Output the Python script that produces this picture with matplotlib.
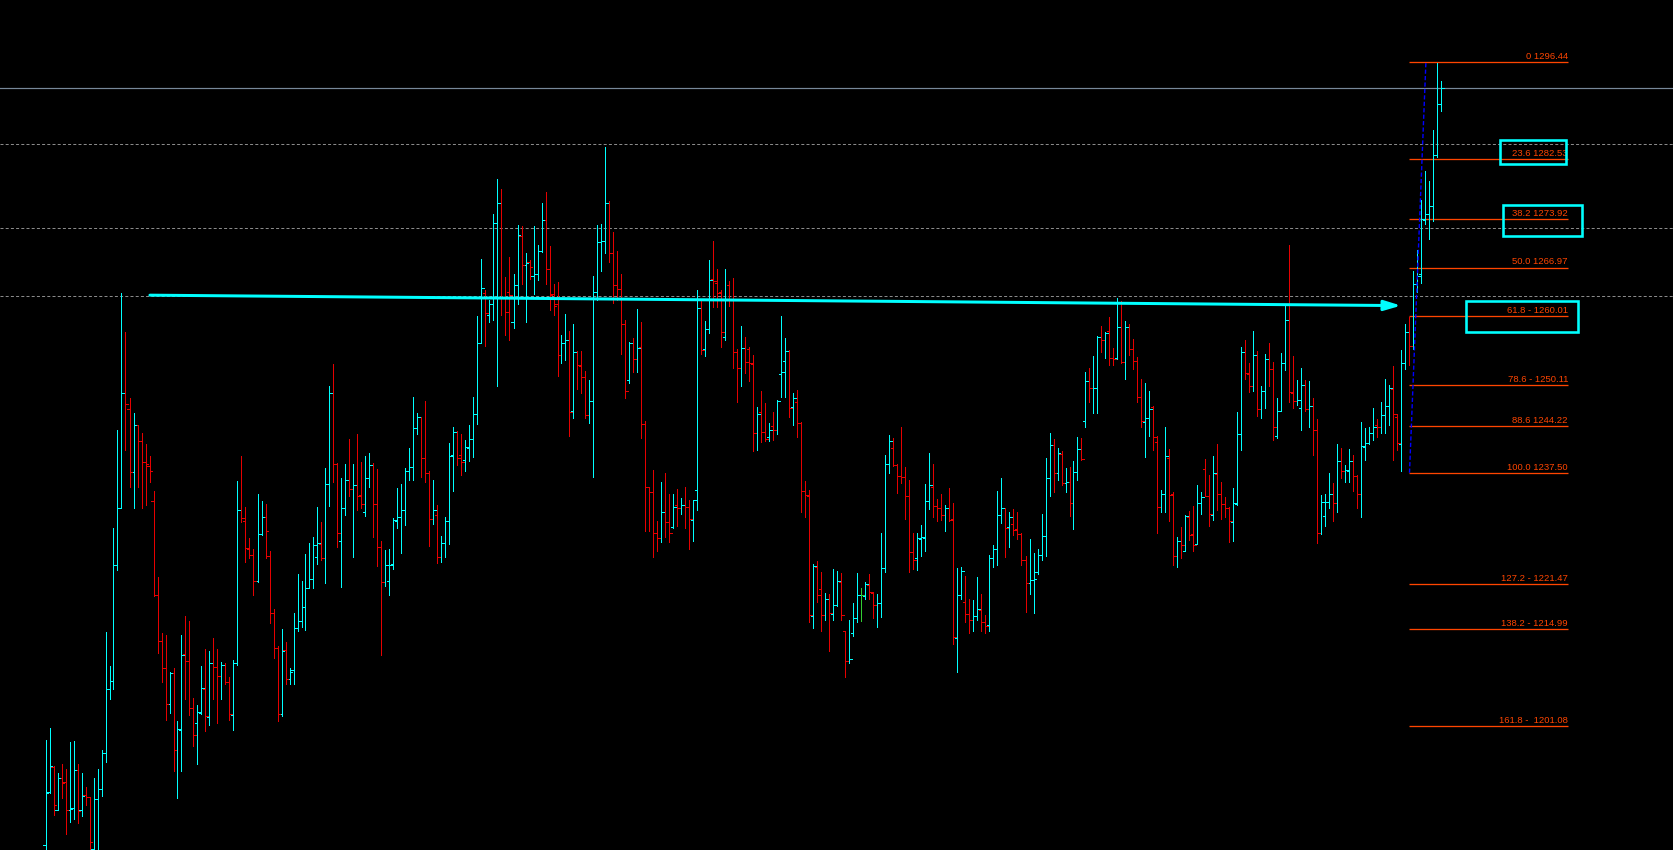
#
# Gold H1 chart with fibonacci retracement drawn on top
# bar chart (OHLC) with the levels, trend arrow and highlight boxes
#
import numpy as np
import matplotlib
matplotlib.use("Agg")
import matplotlib.pyplot as plt
from matplotlib.patches import Rectangle

# -------------------------------------------------------------------- #
# Data
# -------------------------------------------------------------------- #
opens = [
    1184.0, 1191.6, 1195.2, 1189.1, 1193.6, 1193.1, 1189.1, 1189.3, 1194.8, 1189.0,
    1191.2, 1190.9, 1183.4, 1190.6, 1192.1, 1197.2, 1206.4, 1207.6, 1224.2, 1232.4,
    1248.9, 1246.6, 1237.6, 1244.3, 1242.0, 1239.0, 1238.5, 1233.5, 1220.0, 1213.3,
    1209.5, 1204.3, 1208.8, 1197.7, 1200.6, 1211.4, 1210.5, 1203.7, 1201.5, 1203.0,
    1206.4, 1202.4, 1210.2, 1209.6, 1208.3, 1209.9, 1207.5, 1202.7, 1210.2, 1232.2,
    1230.5, 1226.5, 1225.7, 1221.9, 1228.7, 1231.2, 1225.6, 1217.4, 1212.4, 1202.9,
    1212.0, 1207.9, 1209.2, 1215.2, 1216.2, 1218.2, 1221.0, 1222.2, 1225.4, 1227.2,
    1225.2, 1235.9, 1248.9, 1238.7, 1227.7, 1232.5, 1236.5, 1235.1, 1235.7, 1234.3,
    1231.9, 1236.7, 1238.6, 1233.0, 1226.9, 1221.8, 1222.0, 1224.4, 1230.5, 1231.1,
    1232.2, 1237.7, 1238.3, 1243.9, 1245.5, 1239.6, 1237.5, 1230.8, 1231.4, 1225.4,
    1227.4, 1230.5, 1240.0, 1243.4, 1240.0, 1239.3, 1241.1, 1242.4, 1246.0, 1256.1,
    1263.3, 1260.2, 1261.8, 1273.3, 1276.2, 1262.8, 1263.5, 1259.1, 1264.4, 1271.5,
    1267.3, 1267.7, 1265.8, 1266.1, 1269.4, 1273.8, 1266.8, 1263.1, 1261.7, 1254.4,
    1256.1, 1256.6, 1246.3, 1254.9, 1252.8, 1251.3, 1245.8, 1247.8, 1263.4, 1270.6,
    1270.8, 1276.2, 1269.0, 1264.4, 1263.9, 1258.9, 1250.8, 1256.1, 1253.8, 1255.5,
    1244.5, 1235.4, 1234.7, 1228.8, 1228.1, 1231.8, 1230.4, 1229.7, 1232.8, 1232.4,
    1232.8, 1232.6, 1230.7, 1235.0, 1261.1, 1255.2, 1258.1, 1265.3, 1264.8, 1263.5,
    1257.0, 1264.4, 1262.5, 1254.8, 1252.5, 1255.4, 1255.3, 1253.1, 1243.2, 1246.2,
    1243.4, 1242.6, 1244.2, 1243.7, 1251.7, 1253.5, 1255.0, 1247.0, 1247.6, 1244.7,
    1234.9, 1234.2, 1216.9, 1224.0, 1220.8, 1217.0, 1219.3, 1217.2, 1218.5, 1221.8,
    1214.8, 1210.4, 1214.5, 1216.6, 1219.9, 1219.8, 1221.4, 1220.3, 1218.5, 1218.8,
    1223.8, 1238.8, 1241.1, 1238.6, 1237.0, 1236.9, 1234.2, 1226.1, 1225.3, 1228.0,
    1228.1, 1233.5, 1235.5, 1232.7, 1232.5, 1231.4, 1232.4, 1230.8, 1213.7, 1220.0,
    1218.9, 1217.2, 1216.4, 1216.9, 1217.8, 1216.1, 1215.7, 1225.3, 1226.5, 1231.4,
    1232.4, 1229.7, 1230.2, 1229.4, 1228.7, 1225.0, 1221.6, 1222.1, 1223.2, 1225.7,
    1228.4, 1236.8, 1241.5, 1237.4, 1240.2, 1236.0, 1236.1, 1233.1, 1237.6, 1240.9,
    1244.9, 1250.7, 1249.6, 1249.6, 1257.0, 1256.6, 1257.9, 1254.0, 1254.0, 1258.4,
    1253.4, 1258.4, 1255.2, 1253.5, 1248.4, 1244.8, 1245.3, 1246.9, 1241.9, 1232.6,
    1234.4, 1239.6, 1234.4, 1225.6, 1227.7, 1226.3, 1231.1, 1228.7, 1227.3, 1233.1,
    1238.1, 1234.2, 1231.4, 1237.3, 1234.4, 1233.0, 1232.4, 1230.4, 1233.0, 1243.0,
    1254.8, 1251.7, 1249.9, 1254.4, 1246.6, 1249.2, 1253.8, 1252.4, 1242.8, 1246.3,
    1253.2, 1259.4, 1249.0, 1247.8, 1246.8, 1250.1, 1246.6, 1247.1, 1243.7, 1228.8,
    1231.3, 1233.3, 1234.4, 1233.1, 1239.2, 1237.7, 1237.8, 1239.2, 1237.1, 1234.4,
    1241.2, 1241.7, 1243.2, 1244.3, 1244.1, 1245.8, 1247.1, 1249.5, 1245.5, 1241.6,
    1253.2, 1257.7, 1255.7, 1264.6, 1266.0, 1273.8, 1274.7, 1275.8, 1283.1, 1290.5,
]
highs = [
    1199.1, 1200.8, 1195.4, 1194.4, 1195.7, 1194.9, 1198.8, 1199.0, 1195.7, 1194.4,
    1192.4, 1190.9, 1193.7, 1194.9, 1197.7, 1214.6, 1209.7, 1229.6, 1243.6, 1263.3,
    1257.7, 1248.2, 1246.1, 1244.3, 1243.2, 1241.6, 1239.9, 1234.9, 1222.5, 1214.5,
    1214.2, 1208.9, 1209.5, 1201.8, 1214.2, 1216.9, 1216.2, 1205.1, 1204.1, 1209.7,
    1212.2, 1211.9, 1213.7, 1212.2, 1210.3, 1210.2, 1208.2, 1210.6, 1236.3, 1239.9,
    1232.6, 1228.1, 1226.5, 1234.4, 1233.4, 1233.0, 1226.3, 1217.9, 1212.6, 1215.0,
    1213.2, 1209.5, 1217.4, 1222.9, 1222.0, 1225.9, 1227.4, 1228.3, 1232.6, 1230.4,
    1238.2, 1249.9, 1253.1, 1238.9, 1236.7, 1238.8, 1242.4, 1238.8, 1243.0, 1239.0,
    1239.9, 1240.3, 1238.9, 1238.0, 1227.7, 1226.4, 1226.6, 1231.0, 1235.3, 1235.9,
    1238.2, 1241.0, 1248.4, 1246.1, 1245.5, 1247.8, 1237.7, 1236.5, 1232.8, 1228.4,
    1231.1, 1241.7, 1244.1, 1243.5, 1243.1, 1242.2, 1244.4, 1248.4, 1260.0, 1268.2,
    1263.7, 1262.3, 1274.7, 1279.7, 1278.2, 1265.6, 1268.5, 1266.0, 1273.1, 1272.9,
    1269.1, 1268.0, 1272.9, 1270.2, 1276.2, 1277.8, 1270.1, 1264.6, 1264.9, 1257.3,
    1260.3, 1257.8, 1258.9, 1255.0, 1255.0, 1252.1, 1250.8, 1265.8, 1273.1, 1273.2,
    1284.3, 1276.5, 1272.1, 1269.3, 1266.0, 1259.4, 1256.3, 1256.8, 1261.0, 1259.1,
    1244.9, 1235.5, 1237.9, 1230.5, 1236.1, 1237.5, 1234.5, 1234.4, 1235.1, 1233.9,
    1235.4, 1233.6, 1233.6, 1263.7, 1262.1, 1259.3, 1268.1, 1270.8, 1266.8, 1263.7,
    1266.7, 1265.0, 1265.5, 1255.3, 1258.6, 1257.0, 1255.6, 1254.4, 1247.0, 1249.2,
    1247.5, 1244.6, 1246.2, 1247.9, 1260.0, 1256.8, 1255.1, 1248.9, 1249.4, 1244.8,
    1236.3, 1235.0, 1224.4, 1224.8, 1223.2, 1220.2, 1220.1, 1223.7, 1223.4, 1223.1,
    1214.8, 1216.3, 1218.8, 1223.1, 1220.9, 1221.8, 1222.9, 1220.4, 1220.1, 1228.9,
    1240.0, 1242.9, 1242.5, 1238.7, 1244.1, 1238.3, 1236.4, 1228.8, 1228.8, 1230.0,
    1235.9, 1240.3, 1238.7, 1233.7, 1234.5, 1232.8, 1235.3, 1233.1, 1223.8, 1223.9,
    1222.6, 1219.4, 1219.2, 1222.5, 1220.1, 1217.0, 1225.7, 1227.1, 1234.9, 1236.7,
    1232.4, 1231.8, 1232.3, 1231.8, 1228.8, 1225.5, 1228.0, 1226.0, 1226.5, 1231.6,
    1239.6, 1243.2, 1242.3, 1241.0, 1240.6, 1238.2, 1238.3, 1239.2, 1242.6, 1242.5,
    1252.0, 1252.5, 1254.3, 1257.1, 1258.6, 1257.7, 1259.9, 1255.4, 1262.6, 1262.2,
    1259.3, 1258.9, 1256.7, 1254.1, 1251.0, 1250.4, 1249.2, 1247.1, 1242.8, 1235.0,
    1244.1, 1240.9, 1234.7, 1228.3, 1229.7, 1231.5, 1232.0, 1232.7, 1235.7, 1234.7,
    1239.5, 1237.2, 1239.9, 1241.6, 1236.2, 1234.0, 1232.6, 1235.3, 1246.2, 1255.6,
    1256.6, 1253.3, 1257.9, 1255.0, 1249.9, 1254.5, 1256.1, 1253.4, 1248.2, 1254.7,
    1261.5, 1270.2, 1254.3, 1250.8, 1252.5, 1250.8, 1250.7, 1248.2, 1245.2, 1234.3,
    1234.4, 1237.4, 1236.0, 1241.6, 1241.1, 1238.6, 1240.9, 1240.0, 1237.2, 1244.8,
    1243.9, 1244.0, 1246.8, 1245.2, 1247.7, 1251.0, 1250.1, 1252.8, 1245.9, 1255.1,
    1258.9, 1259.9, 1266.5, 1269.5, 1276.7, 1280.8, 1279.4, 1286.7, 1296.4, 1293.8,
]
lows = [
    1181.0, 1191.5, 1188.3, 1189.0, 1190.8, 1185.6, 1187.3, 1187.8, 1187.2, 1188.2,
    1189.8, 1182.0, 1182.5, 1182.5, 1191.1, 1195.9, 1205.0, 1206.5, 1223.6, 1232.4,
    1240.8, 1235.4, 1232.5, 1235.4, 1232.4, 1232.9, 1236.1, 1219.8, 1211.6, 1207.5,
    1202.0, 1203.0, 1194.7, 1190.8, 1194.7, 1205.0, 1202.7, 1198.3, 1195.7, 1202.9,
    1200.4, 1201.2, 1205.0, 1201.5, 1205.0, 1207.1, 1202.0, 1200.6, 1209.9, 1230.4,
    1224.7, 1225.2, 1219.9, 1221.8, 1228.6, 1225.3, 1215.9, 1210.9, 1201.9, 1202.6,
    1207.2, 1207.1, 1207.1, 1214.8, 1215.3, 1214.9, 1220.9, 1221.0, 1224.4, 1225.0,
    1221.7, 1232.7, 1236.1, 1226.9, 1221.1, 1231.5, 1234.2, 1225.4, 1232.2, 1232.5,
    1231.3, 1235.4, 1228.3, 1224.1, 1211.3, 1221.3, 1219.9, 1223.7, 1229.5, 1226.0,
    1230.0, 1236.5, 1236.5, 1243.0, 1236.9, 1236.1, 1227.0, 1230.1, 1224.6, 1224.7,
    1225.4, 1227.3, 1234.9, 1238.6, 1237.2, 1237.7, 1239.2, 1239.8, 1244.5, 1256.1,
    1255.7, 1259.1, 1259.4, 1249.9, 1260.1, 1257.3, 1256.5, 1258.3, 1261.7, 1264.6,
    1259.2, 1265.3, 1263.2, 1265.2, 1269.2, 1264.6, 1260.8, 1260.1, 1251.4, 1253.3,
    1253.7, 1242.8, 1245.3, 1249.5, 1248.9, 1245.4, 1244.7, 1236.9, 1262.3, 1266.4,
    1269.1, 1267.7, 1261.9, 1262.3, 1254.5, 1248.3, 1250.4, 1251.9, 1251.9, 1242.5,
    1229.2, 1229.2, 1225.4, 1226.2, 1227.6, 1228.3, 1227.5, 1229.5, 1229.9, 1231.6,
    1229.5, 1226.6, 1227.7, 1232.2, 1254.6, 1254.3, 1257.5, 1261.3, 1261.3, 1255.5,
    1256.6, 1261.5, 1252.6, 1247.7, 1249.9, 1251.8, 1250.7, 1240.6, 1240.7, 1241.9,
    1242.1, 1242.0, 1242.2, 1243.0, 1248.4, 1248.4, 1245.5, 1244.4, 1242.6, 1231.8,
    1231.2, 1216.1, 1215.2, 1219.0, 1214.8, 1216.4, 1211.9, 1216.4, 1218.4, 1216.4,
    1208.2, 1210.2, 1214.1, 1216.1, 1216.2, 1219.3, 1219.3, 1216.6, 1215.3, 1216.8,
    1223.3, 1237.4, 1238.4, 1234.6, 1236.0, 1230.8, 1223.2, 1223.7, 1223.6, 1225.6,
    1226.3, 1232.3, 1231.2, 1230.6, 1230.7, 1229.2, 1230.6, 1212.9, 1208.9, 1219.3,
    1216.1, 1214.5, 1214.8, 1216.3, 1214.7, 1214.5, 1214.7, 1223.9, 1224.3, 1230.3,
    1225.4, 1226.9, 1228.5, 1228.0, 1224.2, 1217.5, 1220.1, 1217.3, 1223.0, 1224.9,
    1225.6, 1234.2, 1234.8, 1236.4, 1235.7, 1234.8, 1231.3, 1229.4, 1236.5, 1239.4,
    1244.0, 1247.7, 1246.1, 1246.1, 1254.9, 1254.0, 1253.0, 1252.9, 1253.9, 1253.3,
    1250.9, 1254.4, 1252.4, 1247.6, 1244.0, 1239.7, 1242.8, 1240.8, 1228.9, 1231.8,
    1231.8, 1230.5, 1224.2, 1223.9, 1225.2, 1226.2, 1227.9, 1226.2, 1227.2, 1231.6,
    1234.2, 1229.9, 1230.7, 1232.2, 1230.9, 1231.1, 1227.6, 1227.7, 1232.9, 1240.8,
    1250.9, 1249.1, 1249.3, 1245.7, 1245.4, 1246.8, 1250.0, 1242.2, 1242.5, 1246.3,
    1252.2, 1247.6, 1246.8, 1247.2, 1243.7, 1246.3, 1244.1, 1240.1, 1227.4, 1228.7,
    1229.9, 1232.5, 1230.6, 1231.8, 1236.8, 1236.2, 1236.1, 1234.9, 1232.4, 1231.2,
    1239.3, 1241.6, 1242.2, 1242.7, 1243.2, 1243.2, 1244.3, 1239.3, 1240.8, 1237.7,
    1252.4, 1253.0, 1255.3, 1263.4, 1264.8, 1273.2, 1271.0, 1273.6, 1282.9, 1289.5,
]
closes = [
    1191.5, 1195.4, 1189.8, 1193.6, 1192.9, 1189.1, 1189.2, 1194.8, 1188.9, 1191.1,
    1190.9, 1184.5, 1190.6, 1192.1, 1197.2, 1206.4, 1207.6, 1224.2, 1232.4, 1248.9,
    1247.3, 1237.6, 1244.3, 1242.0, 1239.0, 1238.7, 1237.7, 1220.0, 1213.3, 1209.5,
    1204.3, 1208.8, 1197.7, 1200.7, 1211.3, 1210.5, 1203.7, 1199.8, 1203.2, 1206.6,
    1202.6, 1210.2, 1209.6, 1208.3, 1209.9, 1207.5, 1202.8, 1210.2, 1232.2, 1231.0,
    1226.7, 1225.7, 1222.0, 1228.7, 1231.2, 1229.2, 1217.4, 1212.4, 1202.9, 1211.9,
    1207.9, 1208.9, 1215.2, 1216.2, 1218.2, 1221.0, 1222.2, 1227.1, 1227.4, 1225.2,
    1235.9, 1248.9, 1238.7, 1228.9, 1232.5, 1236.5, 1235.1, 1235.7, 1234.1, 1233.0,
    1236.7, 1238.6, 1233.0, 1226.8, 1221.8, 1224.2, 1224.2, 1230.7, 1231.1, 1232.2,
    1237.7, 1238.3, 1243.9, 1245.5, 1239.6, 1237.5, 1230.8, 1232.1, 1225.4, 1227.4,
    1230.5, 1239.9, 1243.3, 1239.6, 1239.1, 1241.2, 1242.4, 1246.0, 1256.1, 1264.0,
    1260.4, 1261.8, 1273.3, 1276.2, 1262.8, 1260.6, 1263.0, 1264.4, 1271.6, 1267.3,
    1267.6, 1267.1, 1266.1, 1269.4, 1273.8, 1266.8, 1263.0, 1261.4, 1254.4, 1256.1,
    1256.6, 1246.2, 1254.8, 1252.9, 1251.2, 1245.8, 1247.8, 1263.4, 1270.6, 1270.8,
    1276.2, 1269.0, 1264.4, 1263.9, 1258.9, 1249.2, 1256.1, 1253.9, 1255.4, 1244.5,
    1235.4, 1234.7, 1228.8, 1228.1, 1231.8, 1230.4, 1228.9, 1232.6, 1232.4, 1232.8,
    1232.6, 1230.9, 1233.6, 1261.1, 1255.1, 1258.1, 1265.2, 1265.0, 1263.3, 1257.7,
    1262.5, 1262.5, 1254.8, 1252.5, 1255.4, 1253.4, 1253.2, 1243.2, 1246.0, 1243.4,
    1242.4, 1243.6, 1243.7, 1247.8, 1251.9, 1255.0, 1246.8, 1248.2, 1244.7, 1234.9,
    1234.3, 1217.0, 1224.1, 1219.9, 1217.0, 1219.3, 1217.3, 1218.5, 1221.9, 1217.0,
    1210.4, 1210.8, 1216.6, 1219.9, 1219.9, 1221.5, 1220.4, 1218.5, 1218.8, 1223.8,
    1238.8, 1242.1, 1238.6, 1237.1, 1236.9, 1234.2, 1226.1, 1225.0, 1228.1, 1228.2,
    1233.5, 1235.7, 1232.7, 1232.5, 1231.4, 1232.4, 1230.7, 1213.9, 1220.0, 1223.4,
    1217.2, 1216.3, 1216.9, 1217.9, 1216.1, 1215.5, 1225.3, 1226.5, 1231.4, 1232.4,
    1229.5, 1231.1, 1229.3, 1228.7, 1224.9, 1221.6, 1222.1, 1222.3, 1225.7, 1228.4,
    1236.7, 1241.5, 1237.4, 1240.3, 1236.0, 1236.1, 1233.1, 1237.6, 1240.9, 1239.5,
    1250.7, 1249.6, 1249.7, 1257.0, 1256.6, 1257.6, 1254.0, 1253.9, 1258.4, 1253.4,
    1258.4, 1255.2, 1253.5, 1248.4, 1245.0, 1245.3, 1246.7, 1242.6, 1232.6, 1234.4,
    1239.9, 1234.3, 1225.6, 1227.7, 1227.1, 1231.3, 1228.6, 1227.1, 1233.1, 1234.0,
    1234.2, 1231.6, 1237.4, 1234.4, 1233.0, 1232.4, 1230.5, 1233.1, 1243.0, 1254.8,
    1251.8, 1250.0, 1254.4, 1246.6, 1249.2, 1253.9, 1252.4, 1244.0, 1246.3, 1253.2,
    1259.4, 1249.1, 1247.8, 1248.0, 1250.1, 1246.6, 1247.1, 1243.7, 1228.9, 1233.3,
    1233.3, 1234.5, 1233.1, 1239.2, 1237.7, 1237.9, 1239.2, 1237.0, 1234.4, 1241.4,
    1241.7, 1243.2, 1244.1, 1244.1, 1245.8, 1247.1, 1249.6, 1245.9, 1241.7, 1253.2,
    1257.7, 1255.7, 1264.6, 1265.7, 1273.9, 1274.7, 1275.8, 1283.1, 1290.5, 1292.7,
]

# fibonacci levels (as printed on the chart)
fib_levels = [0.0, 23.6, 38.2, 50.0, 61.8, 78.6, 88.6, 100.0, 127.2, 138.2, 161.8]
fib_prices = [1296.44, 1282.53, 1273.92, 1266.97, 1260.01, 1250.11, 1244.22,
              1237.50, 1221.47, 1214.99, 1201.08]
fib_labels = ["0 1296.44", "23.6 1282.53", "38.2 1273.92", "50.0 1266.97",
              "61.8 - 1260.01", "78.6 - 1250.11", "88.6 1244.22", "100.0 1237.50",
              "127.2 - 1221.47", "138.2 - 1214.99", "161.8 -  1201.08"]
fib_anchor_bars = [341.0, 345.1]     # low anchor, high anchor
fib_end = 380.6

# other horizontal lines on the chart
bid_line = 1292.71
dashed_lines = [1284.67, 1272.60, 1262.84]

# cyan trend arrow (bar index, price)
arrow_start = (26.1, 1263.0)
arrow_end = (338.9, 1261.5)

# cyan highlight boxes: (x0, x1, y0, y1) in bar index / price
boxes = [
    (363.6, 380.1, 1281.84, 1285.28),
    (364.4, 384.1, 1271.50, 1275.95),
    (355.1, 383.1, 1257.71, 1262.16),
]

# -------------------------------------------------------------------- #
# Colours
# -------------------------------------------------------------------- #
up_col = "#00ffff"
down_col = "#e60000"
doji_col = "#32cd32"
fib_col = "#ff4500"
px = 0.72  # one pixel in points at dpi 100

# -------------------------------------------------------------------- #
# Plot
# -------------------------------------------------------------------- #
o = np.array(opens)
h = np.array(highs)
l = np.array(lows)
c = np.array(closes)
x = np.arange(len(o))

cols = np.where(c > o, up_col, np.where(c < o, down_col, doji_col))

fig = plt.figure(figsize=(16.73, 8.5), dpi=100, facecolor="black")
ax = fig.add_axes([0, 0, 1, 1])
ax.set_facecolor("black")
ax.axis("off")
ax.set_xlim(-45.5 / 4, (1673 - 45.5) / 4)
ax.set_ylim(1183.32, 1305.39)

# background horizontal lines
ax.axhline(bid_line, color="#778899", lw=1.2 * px, zorder=1)
for yv in dashed_lines:
    ax.axhline(yv, color="#8a8a8a", lw=px, ls=(0, (3, 2.2)), zorder=1)

# fib level lines and labels
for price, lab in zip(fib_prices, fib_labels):
    ax.plot([fib_anchor_bars[0] - 0.1, fib_end], [price, price], color=fib_col,
            lw=1.3 * px, zorder=2, solid_capstyle="butt")
    ax.annotate(lab, (fib_end, price), xytext=(0, 2.2), textcoords="offset points",
                ha="right", va="baseline", color=fib_col, fontsize=6.8,
                family=["Liberation Sans", "DejaVu Sans"], zorder=4)

# OHLC bars, one pixel wide
ax.vlines(x, np.minimum(l, np.minimum(o, c)), np.maximum(h, np.maximum(o, c)),
          colors=cols, lw=px, antialiased=False, zorder=3)
ax.hlines(o, x - 0.55, x, colors=cols, lw=px, antialiased=False, zorder=3)
ax.hlines(c, x, x + 0.55, colors=cols, lw=px, antialiased=False, zorder=3)

# fib trend line (blue dashes)
ax.plot(fib_anchor_bars, [fib_prices[7], fib_prices[0]], color="#0000ff",
        lw=1.4 * px, ls=(0, (3, 1.6)), zorder=5)

# cyan arrow
ax.annotate("", xy=arrow_end, xytext=arrow_start,
            arrowprops=dict(arrowstyle="-|>,head_length=1.0,head_width=0.3",
                            color="#00ffff", lw=3 * px, shrinkA=0, shrinkB=0,
                            mutation_scale=10), zorder=6)

# highlight boxes
for x0, x1, y0, y1 in boxes:
    ax.add_patch(Rectangle((x0, y0), x1 - x0, y1 - y0, fill=False,
                           edgecolor="#00ffff", lw=2.6 * px, zorder=7))

fig.savefig("out.png", dpi=100, facecolor="black")
